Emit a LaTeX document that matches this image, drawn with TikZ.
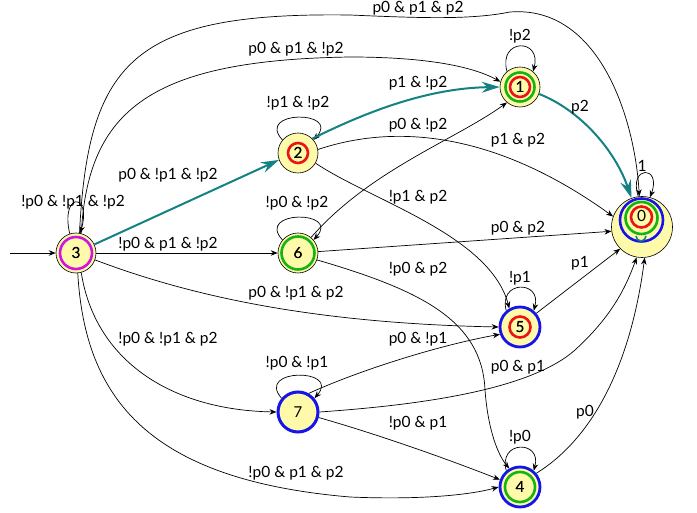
\documentclass[tikz,border=0pt]{standalone}
\usepackage{fontspec}
\setmainfont{Lato}
\usetikzlibrary{arrows.meta}
\definecolor{statefill}{RGB}{255,250,170}
\definecolor{hotteal}{RGB}{20,130,130}
\definecolor{accred}{RGB}{235,20,20}
\definecolor{accgreen}{RGB}{20,180,20}
\definecolor{accblue}{RGB}{20,20,235}
\definecolor{accmag}{RGB}{210,20,220}
\tikzset{
  state/.style={circle, draw=black, line width=0.6pt, fill=statefill, minimum size=40pt, inner sep=0pt, font=\fontsize{15}{15}\selectfont},
  bigstate/.style={state, minimum size=61pt},
  edge/.style={draw=black, line width=0.7pt, -{Stealth[length=7pt,width=5.5pt]}},
  hot/.style={draw=hotteal, line width=2pt, -{Stealth[length=18pt,width=11pt,inset=6pt]}},
  lbl/.style={font=\fontsize{15.5}{15.5}\selectfont, inner sep=0pt},
  ring/.style={line width=2.6pt}
}
\begin{document}
\begin{tikzpicture}[x=1pt,y=-1pt]
\useasboundingbox (0,0) rectangle (697,513);
% states
\node[bigstate] (n0) at (642,227) {};
\draw[ring,accblue] (641.5,220) circle[radius=21.5pt];
\draw[ring,accgreen] (641.5,218) circle[radius=16pt];
\draw[ring,accred] (641.5,217) circle[radius=10.5pt];
\draw[line width=1.6pt,hotteal] (636,236) arc[start angle=180,end angle=360,radius=5pt];
\node[lbl] (n0t) at (641.5,216) {0};

\node[state] (n1) at (520,87) {1};
\draw[ring,accgreen] (n1.center) circle[radius=14.5pt];
\draw[ring,accred] (n1.center) circle[radius=10pt];
\node[lbl] at (n1.center) {1};

\node[state] (n2) at (298,153) {2};
\draw[ring,accred] (n2.center) circle[radius=10pt];
\node[lbl] at (n2.center) {2};

\node[state] (n3) at (76,253) {3};
\draw[ring,accmag] (n3.center) circle[radius=16pt];
\node[lbl] at (n3.center) {3};

\node[state] (n6) at (298,253) {6};
\draw[ring,accgreen] (n6.center) circle[radius=16.5pt];
\node[lbl] at (n6.center) {6};

\node[state, draw=accblue, line width=2.8pt] (n5) at (520,327) {5};
\draw[ring,accred] (n5.center) circle[radius=10.5pt];
\node[lbl] at (n5.center) {5};

\node[state, draw=accblue, line width=3pt, minimum size=40pt] (n7) at (298,412) {7};

\node[state, draw=accblue, line width=2.8pt] (n4) at (520,487) {4};
\draw[ring,accgreen] (n4.center) circle[radius=15pt];
\node[lbl] at (n4.center) {4};

% initial
\coordinate (init) at (10,253);
\draw[edge] (init) -- (n3);

% edges from 3
\draw[edge] (n3.108) .. controls (60,192) and (92,192) .. (n3.78);
\draw[edge] (n3.80) .. controls (88,60) and (135,12) .. (350,15) .. controls (420,18) and (470,20) .. (510,12) .. controls (600,5) and (635,120) .. (n0.95);
\draw[edge] (n3.75) .. controls (88,110) and (150,60) .. (350,57) .. controls (420,57) and (470,65) .. (n1.165);
\draw[hot] (n3.25) -- (n2.200);
\draw[edge] (n3) -- (n6);
\draw[edge] (n3.-20) .. controls (180,292) and (300,323) .. (n5.west);
\draw[edge] (n3.-75) .. controls (95,360) and (170,410) .. (n7.west);
\draw[edge] (n3.-85) .. controls (85,400) and (150,480) .. (350,497) .. controls (420,500) and (470,495) .. (n4.west);

% edges from 2
\draw[edge] (n2.140) .. controls (255,110) and (341,110) .. (n2.40);
\draw[hot] (n2.45) .. controls (370,110) and (430,88) .. (n1.west);
\draw[edge] (n2.10) .. controls (400,122) and (500,135) .. (n0.160);
\draw[edge] (n2.-30) .. controls (370,200) and (490,235) .. (n5.120);

% edges from 1
\draw[edge] (n1.130) .. controls (498,38) and (542,38) .. (n1.50);
\draw[hot] (n1.-20) .. controls (580,110) and (615,150) .. (n0.110);

% edges from 6
\draw[edge] (n6.140) .. controls (255,210) and (341,210) .. (n6.40);
\draw[edge] (n6.50) .. controls (370,170) and (455,140) .. (n1.-130);
\draw[edge] (n6) -- (n0.188);
\draw[edge] (n6.-20) .. controls (420,290) and (482,320) .. (485,390) .. controls (488,430) and (498,455) .. (n4.120);

% edges from 7
\draw[edge] (n7.140) .. controls (255,368) and (341,368) .. (n7.40);
\draw[edge] (n7.60) .. controls (360,370) and (440,345) .. (n5.200);
\draw[edge] (n7.east) .. controls (420,405) and (530,390) .. (575,350) .. controls (610,318) and (625,290) .. (n0.-100);
\draw[edge] (n7.-15) .. controls (380,435) and (450,460) .. (n4.160);

% edges from 5
\draw[edge] (n5.130) .. controls (498,280) and (542,280) .. (n5.50);
\draw[edge] (n5.40) -- (n0.-135);

% edges from 4
\draw[edge] (n4.130) .. controls (498,440) and (542,440) .. (n4.50);
\draw[edge] (n4.40) .. controls (590,440) and (630,370) .. (n0.-85);

% loop on 0
\draw[edge] (n0.97) .. controls (628,165) and (662,165) .. (n0.75);

% labels
\node[lbl] (l33) at (73,202) {!p0 \& !p1 \& !p2};
\node[lbl] (l30) at (418,8) {p0 \& p1 \& p2};
\node[lbl] (l31) at (296,49) {p0 \& p1 \& !p2};
\node[lbl] (l32) at (168,175) {p0 \& !p1 \& !p2};
\node[lbl] (l36) at (168,244) {!p0 \& p1 \& !p2};
\node[lbl] (l35) at (296,293) {p0 \& !p1 \& p2};
\node[lbl] (l37) at (168,339) {!p0 \& !p1 \& p2};
\node[lbl] (l34) at (296,473) {!p0 \& p1 \& p2};
\node[lbl] (l22) at (298,103) {!p1 \& !p2};
\node[lbl] (l21) at (418,83) {p1 \& !p2};
\node[lbl] (l61) at (418,125) {p0 \& !p2};
\node[lbl] (l20) at (518,140) {p1 \& p2};
\node[lbl] (l25) at (418,197) {!p1 \& p2};
\node[lbl] (l66) at (297,203) {!p0 \& !p2};
\node[lbl] (l60) at (518,228) {p0 \& p2};
\node[lbl] (l64) at (418,269) {!p0 \& p2};
\node[lbl] (l77) at (297,363) {!p0 \& !p1};
\node[lbl] (l75) at (418,339) {p0 \& !p1};
\node[lbl] (l70) at (518,367) {p0 \& p1};
\node[lbl] (l74) at (418,423) {!p0 \& p1};
\node[lbl] (l11) at (520,36) {!p2};
\node[lbl] (l10) at (580,107) {p2};
\node[lbl] (l00) at (642,166) {1};
\node[lbl] (l55) at (520,278) {!p1};
\node[lbl] (l50) at (580,263) {p1};
\node[lbl] (l44) at (520,437) {!p0};
\node[lbl] (l40) at (585,412) {p0};
\end{tikzpicture}
\end{document}
